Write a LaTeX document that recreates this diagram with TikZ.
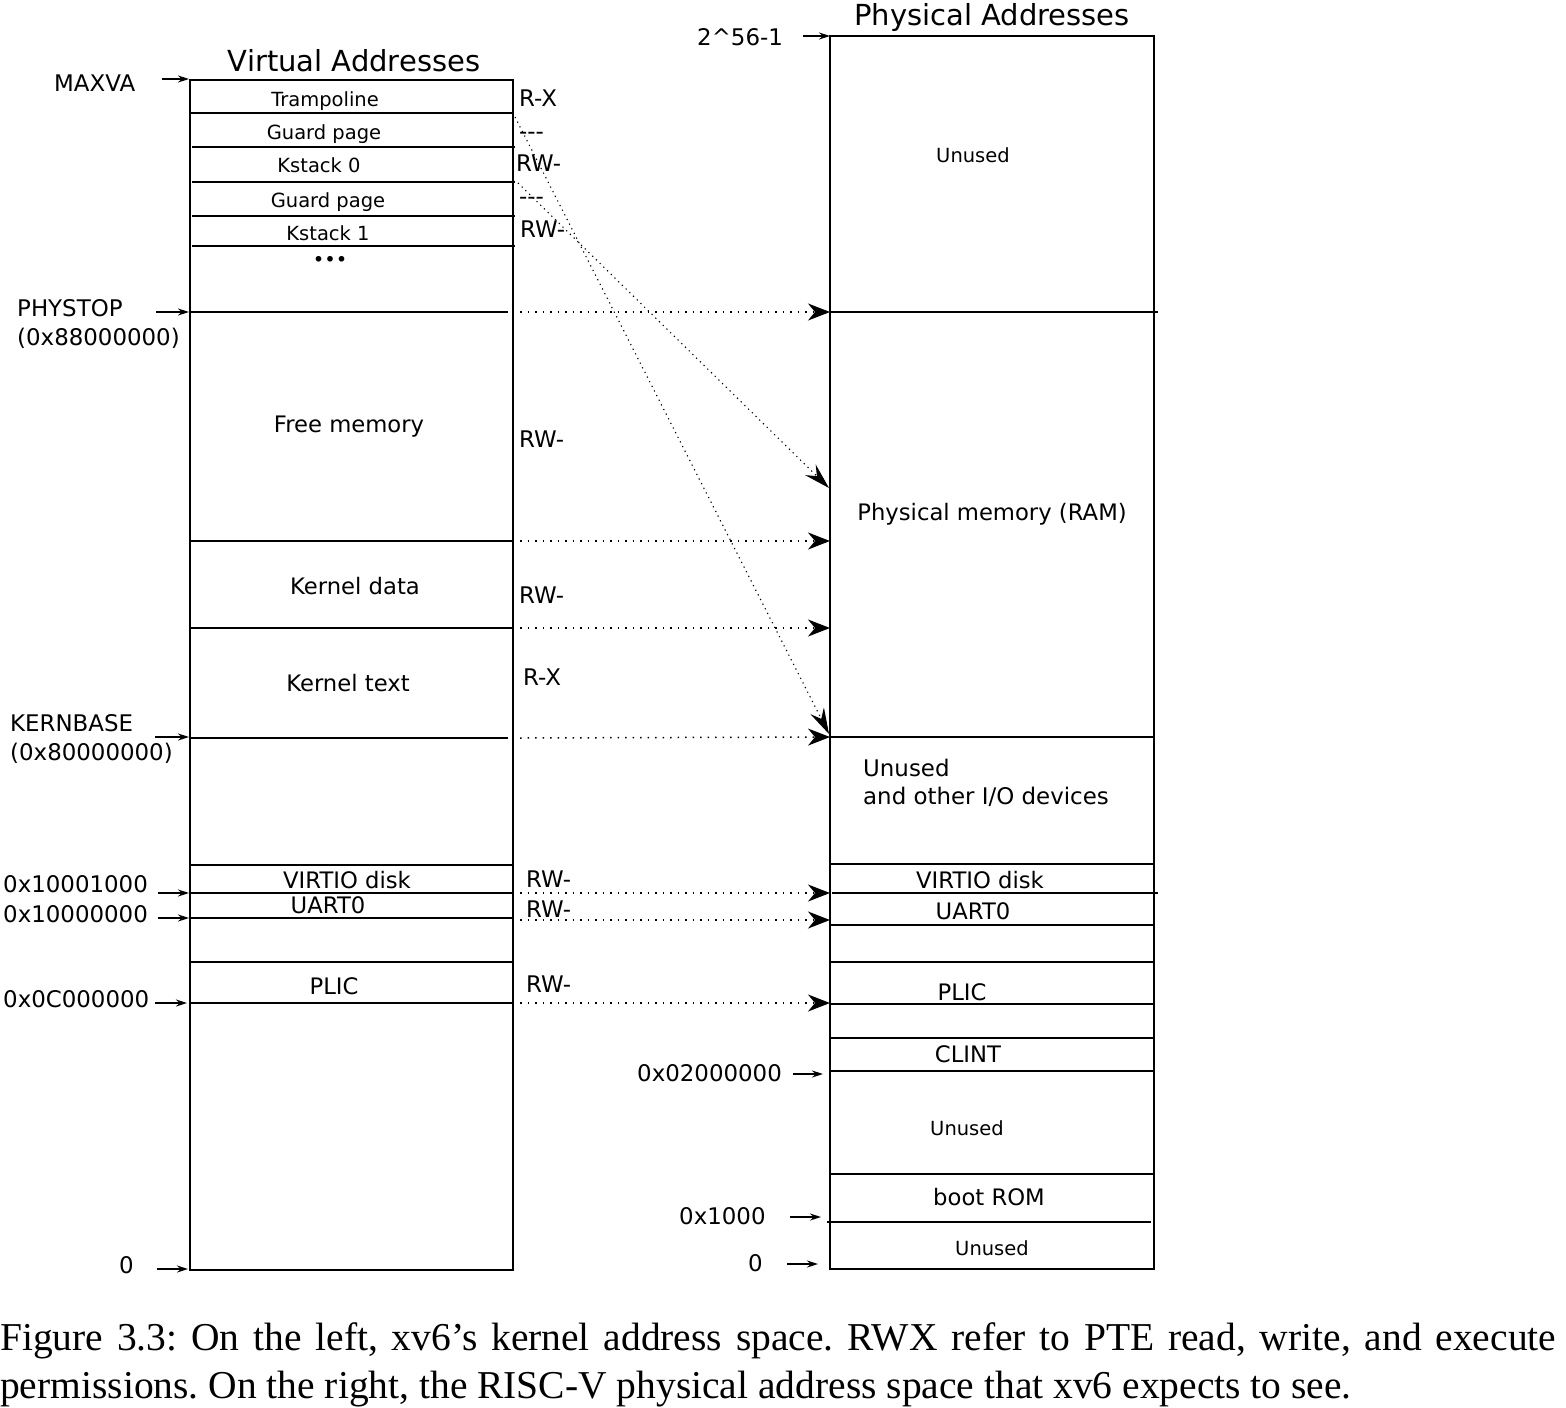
\documentclass[tikz,border=0pt]{standalone}
\usepackage{fontspec}
\setmainfont{DejaVu Sans}
\newfontfamily\capfont{Liberation Serif}
\usetikzlibrary{arrows.meta}
\tikzset{
  box/.style={line width=2.2pt, line join=miter},
  sep/.style={line width=1.6pt},
  lbl/.style={font=\fontsize{22.7}{26}\selectfont, inner sep=0pt, anchor=base},
  lblw/.style={font=\fontsize{22.9}{29}\selectfont, inner sep=0pt, anchor=base west},
  sml/.style={font=\fontsize{19.5}{22}\selectfont, inner sep=0pt, anchor=base},
  ttl/.style={font=\fontsize{29}{34}\selectfont, inner sep=0pt, anchor=base},
  ptr/.style={-{Stealth[length=11pt,width=7pt]}, line width=1.5pt},
  maparrow/.style={dash pattern=on 1.5pt off 6pt, line width=1.5pt, -{Stealth[length=22pt,width=17pt,inset=7pt]}},
  diagarrow/.style={dash pattern=on 1.2pt off 4pt, line width=1.1pt, -{Stealth[length=26pt,width=15pt,inset=9pt]}},
}
\begin{document}
\begin{tikzpicture}[x=1pt,y=-1pt]
\useasboundingbox (0,0) rectangle (1566,1408);
\fill[white] (0,0) rectangle (1566,1408);

% ---------- Virtual address space ----------
\node[ttl] (vtitle) at (354,71) {Virtual Addresses};
\draw[box] (190,80) rectangle (513,1270);
\draw[sep] (190,113) -- (513,113);
\draw[sep] (192,147) -- (515,147);
\draw[sep] (192,182) -- (515,182);
\draw[sep] (192,216) -- (515,216);
\draw[sep] (192,246) -- (515,246);
\draw[sep] (190,312) -- (508,312);
\draw[sep] (190,541) -- (513,541);
\draw[sep] (190,628) -- (513,628);
\draw[sep] (190,738) -- (508,738);
\draw[sep] (190,865) -- (513,865);
\draw[sep] (190,893) -- (513,893);
\draw[sep] (190,918) -- (513,918);
\draw[sep] (190,962) -- (513,962);
\draw[sep] (190,1003) -- (513,1003);

\node[sml] (tramp) at (325,106) {Trampoline};
\node[sml] (guard1) at (324,139) {Guard page};
\node[sml] (kst0) at (319,172) {Kstack 0};
\node[sml] (guard2) at (328,207) {Guard page};
\node[sml] (kst1) at (328,240) {Kstack 1};
\node[sml] (vdots) at (330,266) {•••};
\node[lbl] (free) at (349,432) {Free memory};
\node[lbl] (kdata) at (355,594) {Kernel data};
\node[lbl] (ktext) at (348,691) {Kernel text};
\node[lbl] (vvirtio) at (347,888) {VIRTIO disk};
\node[lbl] (vuart) at (328,913) {UART0};
\node[lbl] (vplic) at (334,994) {PLIC};

% permissions
\node[lblw] (p1) at (519,106) {R-X};
\node[lblw] (p2) at (519,139) {-{}-{}-};
\node[lblw] (p3) at (516,171) {RW-};
\node[lblw] (p4) at (519,204) {-{}-{}-};
\node[lblw] (p5) at (520,237) {RW-};
\node[lblw] (p6) at (519,447) {RW-};
\node[lblw] (p7) at (519,603) {RW-};
\node[lblw] (p8) at (523,685) {R-X};
\node[lblw] (p9) at (526,887) {RW-};
\node[lblw] (p10) at (526,917) {RW-};
\node[lblw] (p11) at (526,992) {RW-};

% address labels (left)
\node[lblw] (maxva) at (54,91) {MAXVA};
\node[lblw] (phystop) at (17,316) {PHYSTOP};
\node[lblw] (phystopv) at (17,345) {(0x88000000)};
\node[lblw] (kernbase) at (10,731) {KERNBASE};
\node[lblw] (kernbasev) at (10,760) {(0x80000000)};
\node[lblw] (a1) at (3,892) {0x10001000};
\node[lblw] (a2) at (3,922) {0x10000000};
\node[lblw] (a3) at (3,1007) {0x0C000000};
\node[lblw] (a4) at (119,1273) {0};

\coordinate (m1s) at (162,79);  \coordinate (m1e) at (189,79);
\coordinate (m2s) at (156,312); \coordinate (m2e) at (189,312);
\coordinate (m3s) at (155,737); \coordinate (m3e) at (189,737);
\coordinate (m4s) at (158,893); \coordinate (m4e) at (189,893);
\coordinate (m5s) at (158,918); \coordinate (m5e) at (189,918);
\coordinate (m6s) at (155,1003); \coordinate (m6e) at (187,1003);
\coordinate (m7s) at (157,1269); \coordinate (m7e) at (188,1269);
\foreach \i in {1,...,7} {\draw[ptr] (m\i s) -- (m\i e);}

% ---------- Physical address space ----------
\node[ttl] (ptitle) at (992,25) {Physical Addresses};
\draw[box] (830,36) rectangle (1154,1269);
\draw[sep] (830,312) -- (1158,312);
\draw[sep] (830,737) -- (1154,737);
\draw[sep] (830,864) -- (1154,864);
\draw[sep] (832,893) -- (1158,893);
\draw[sep] (830,925) -- (1154,925);
\draw[sep] (830,962) -- (1154,962);
\draw[sep] (830,1004) -- (1154,1004);
\draw[sep] (830,1038) -- (1154,1038);
\draw[sep] (830,1071) -- (1154,1071);
\draw[sep] (830,1174) -- (1154,1174);
\draw[sep] (827,1222) -- (1151,1222);

\node[sml] (pun1) at (973,162) {Unused};
\node[lbl] (pram) at (992,520) {Physical memory (RAM)};
\node[lblw] (pio) at (863,776) {Unused};
\node[lblw] (pio2) at (863,804) {and other I/O devices};
\node[lbl] (pvirtio) at (980,888) {VIRTIO disk};
\node[lbl] (puart) at (973,919) {UART0};
\node[lbl] (pplic) at (962,1000) {PLIC};
\node[lbl] (pclint) at (968,1062) {CLINT};
\node[sml] (pun2) at (967,1135) {Unused};
\node[lbl] (prom) at (989,1205) {boot ROM};
\node[sml] (pun3) at (992,1255) {Unused};

\node[lblw] (top) at (697,45) {2\textasciicircum 56-1};
\node[lblw] (b1) at (637,1081) {0x02000000};
\node[lblw] (b2) at (679,1224) {0x1000};
\node[lblw] (b3) at (748,1271) {0};

\coordinate (n1s) at (803,36);  \coordinate (n1e) at (830,36);
\coordinate (n2s) at (793,1074); \coordinate (n2e) at (823,1074);
\coordinate (n3s) at (790,1217); \coordinate (n3e) at (821,1217);
\coordinate (n4s) at (787,1264); \coordinate (n4e) at (818,1264);
\foreach \i in {1,...,4} {\draw[ptr] (n\i s) -- (n\i e);}

% ---------- mappings ----------
\coordinate (vA) at (520,312);  \coordinate (pA) at (830,312);
\coordinate (vB) at (520,541);  \coordinate (pB) at (830,541);
\coordinate (vC) at (520,628);  \coordinate (pC) at (830,628);
\coordinate (vD) at (520,738);  \coordinate (pD) at (830,737);
\coordinate (vE) at (520,893);  \coordinate (pE) at (830,893);
\coordinate (vF) at (520,920);  \coordinate (pF) at (830,920);
\coordinate (vG) at (520,1003); \coordinate (pG) at (830,1003);
\foreach \k in {A,B,C,D,E,F,G} {\draw[maparrow] (v\k) -- (p\k);}

\coordinate (tr0) at (515,117); \coordinate (tr1) at (829,734);
\coordinate (ks0) at (518,183); \coordinate (ks1) at (829,488);
\draw[diagarrow] (tr0) -- (tr1);
\draw[diagarrow] (ks0) -- (ks1);

% ---------- caption ----------
\node[inner sep=0pt, anchor=base west, font=\capfont\fontsize{39.5}{48}\selectfont] (cap1) at (0,1350)
  {\frenchspacing\makebox[1556pt][s]{Figure 3.3: On the left, xv6’s kernel address space. RWX refer to PTE read, write, and execute}};
\node[inner sep=0pt, anchor=base west, font=\capfont\fontsize{39.5}{48}\selectfont] (cap2) at (0,1398)
  {\frenchspacing permissions. On the right, the RISC-V physical address space that xv6 expects to see.};
\end{tikzpicture}
\end{document}
